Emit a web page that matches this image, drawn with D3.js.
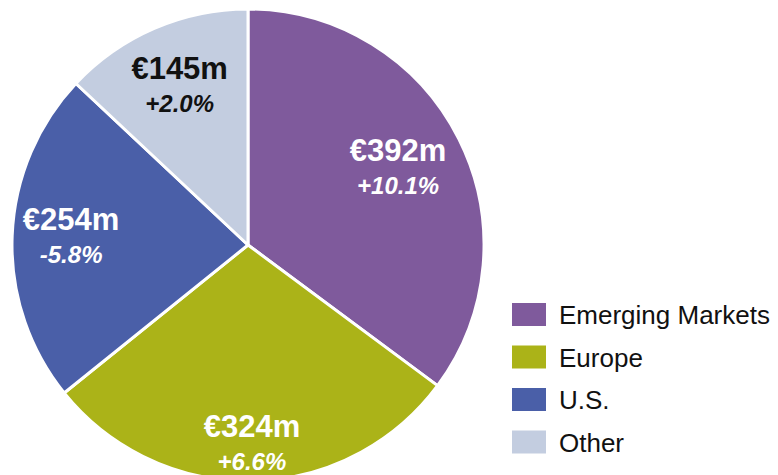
<!DOCTYPE html>
<html>
<head>
<meta charset="utf-8">
<script src="https://cdn.jsdelivr.net/npm/d3@7"></script>
<style>
  body { margin: 0; background: #fff; }
  svg { display: block; font-family: "Liberation Sans", Arial, sans-serif; }
</style>
</head>
<body>
<div id="pie"></div>
<script>
// chart data
var regions = ["Emerging Markets", "Europe", "U.S.", "Other"];
var sales = [392, 324, 254, 145];
var growth = ["+10.1%", "+6.6%", "-5.8%", "+2.0%"];

var colors = ["#7f5a9c", "#abb318", "#4a5fa8", "#c3cde0"];
var textColors = ["#fff", "#fff", "#fff", "#111"];
// distance of each label from the centre (layout only)
var labelRadius = [168, 200, 177, 172];

var width = 778;
var height = 475;
var cx = 248, cy = 245, radius = 236;

var svg = d3.select('#pie')
    .append('svg')
    .attr('width', width)
    .attr('height', height);

var pie = d3.pie()
    .sort(null)
    .value(d => d);

var arc = d3.arc()
    .innerRadius(0)
    .outerRadius(radius);

var arcs = pie(sales);

var pieg = svg.append('g')
    .attr("transform", "translate(" + cx + "," + cy + ")");

pieg.selectAll('path')
    .data(arcs)
    .enter()
    .append('path')
    .attr('d', arc)
    .attr('fill', (d, i) => colors[i])
    .attr('stroke', '#fff')
    .attr('stroke-width', 3)
    .attr('stroke-linejoin', 'round');

var labels = pieg.selectAll('g.label')
    .data(arcs)
    .enter()
    .append('g')
    .attr('class', 'label')
    .attr('transform', function (d, i) {
        var c = d3.arc().innerRadius(labelRadius[i]).outerRadius(labelRadius[i]).centroid(d);
        return "translate(" + c[0] + "," + c[1] + ")";
    });

labels.append('text')
    .attr('text-anchor', 'middle')
    .attr('y', -8)
    .attr('fill', (d, i) => textColors[i])
    .style('font-size', '31px')
    .style('font-weight', 'bold')
    .text((d, i) => "€" + sales[i] + "m");

labels.append('text')
    .attr('text-anchor', 'middle')
    .attr('y', 25)
    .attr('fill', (d, i) => textColors[i])
    .style('font-size', '24px')
    .style('font-weight', 'bold')
    .style('font-style', 'italic')
    .text((d, i) => growth[i]);

// legend
var legend = svg.append('g')
    .attr("transform", "translate(512,303)");

var rows = legend.selectAll('g')
    .data(regions)
    .enter()
    .append('g')
    .attr('transform', (d, i) => "translate(0," + (i * 42.5) + ")");

rows.append('rect')
    .attr('width', 34)
    .attr('height', 23)
    .attr('fill', (d, i) => colors[i]);

rows.append('text')
    .attr('x', 47)
    .attr('y', 21)
    .attr('fill', '#111')
    .style('font-size', '26px')
    .text(d => d);
</script>
</body>
</html>
